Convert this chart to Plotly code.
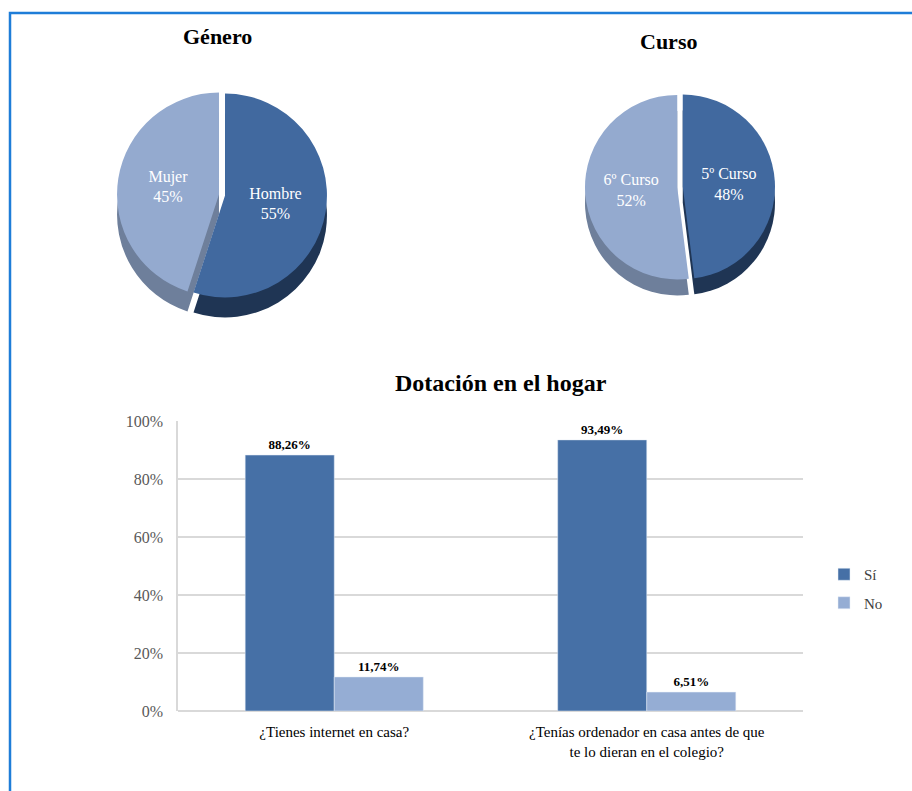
import plotly.graph_objects as go

# ---- data ----
genero_labels = ["Hombre", "Mujer"]
genero_values = [55, 45]
curso_labels = ["5º Curso", "6º Curso"]
curso_values = [48, 52]
bar_categories = ["¿Tienes internet en casa?",
                  "¿Tenías ordenador en casa antes de que<br>te lo dieran en el colegio?"]
si_values = [88.26, 93.49]
no_values = [11.74, 6.51]
y_ticks = [0, 20, 40, 60, 80, 100]
y_tick_labels = [f"{v}%" for v in y_ticks]

W, H = 912, 791
SERIF = "Liberation Serif"
DARK = "#41699F"
LIGHT = "#94AACF"
DARK_SIDE = "#1F3554"
LIGHT_SIDE = "#6E7F9B"


def px_x(v):
    return v / W


def px_y(v):
    return 1 - v / H


fig = go.Figure()

# Género pie (side/depth layer then top)
g_dom_x = [px_x(117), px_x(327)]
fig.add_trace(go.Pie(labels=genero_labels, values=genero_values, sort=False,
                     direction="clockwise", rotation=0,
                     domain=dict(x=g_dom_x, y=[px_y(320), px_y(110)]),
                     marker=dict(colors=[DARK_SIDE, LIGHT_SIDE], line=dict(width=0)),
                     pull=[0.03, 0.03], textinfo="none", hoverinfo="skip",
                     showlegend=False))
fig.add_trace(go.Pie(labels=genero_labels, values=genero_values, sort=False,
                     direction="clockwise", rotation=0,
                     domain=dict(x=g_dom_x, y=[px_y(300), px_y(90)]),
                     marker=dict(colors=[DARK, LIGHT], line=dict(width=0)),
                     pull=[0.03, 0.03],
                     texttemplate="%{label}<br>%{percent:.0%}",
                     textposition="inside", insidetextorientation="horizontal",
                     textfont=dict(family=SERIF, size=16, color="white"),
                     showlegend=False))

# Curso pie
c_dom_x = [px_x(585), px_x(775)]
fig.add_trace(go.Pie(labels=curso_labels, values=curso_values, sort=False,
                     direction="clockwise", rotation=0,
                     domain=dict(x=c_dom_x, y=[px_y(298), px_y(108)]),
                     marker=dict(colors=[DARK_SIDE, LIGHT_SIDE], line=dict(width=0)),
                     pull=[0.03, 0.03], textinfo="none", hoverinfo="skip",
                     showlegend=False))
fig.add_trace(go.Pie(labels=curso_labels, values=curso_values, sort=False,
                     direction="clockwise", rotation=0,
                     domain=dict(x=c_dom_x, y=[px_y(282), px_y(92)]),
                     marker=dict(colors=[DARK, LIGHT], line=dict(width=0)),
                     pull=[0.03, 0.03],
                     texttemplate="%{label}<br>%{percent:.0%}",
                     textposition="inside", insidetextorientation="horizontal",
                     textfont=dict(family=SERIF, size=16, color="white"),
                     showlegend=False))

# Bars
fig.add_trace(go.Bar(name="Sí", x=bar_categories, y=si_values, marker_color="#4670A6",
                     legendgroup="si",
                     texttemplate="<b>%{y:.2f}%</b>", textposition="outside",
                     textfont=dict(family=SERIF, size=13, color="black"),
                     cliponaxis=False))
fig.add_trace(go.Bar(name="No", x=bar_categories, y=no_values, marker_color="#95ADD4",
                     legendgroup="no",
                     texttemplate="<b>%{y:.2f}%</b>", textposition="outside",
                     textfont=dict(family=SERIF, size=13, color="black"),
                     cliponaxis=False))

fig.update_layout(
    width=W, height=H,
    margin=dict(l=0, r=0, t=0, b=0),
    paper_bgcolor="white", plot_bgcolor="white",
    separators=",.",
    barmode="group", bargap=0.43, bargroupgap=0,
    font=dict(family=SERIF, color="black"),
    xaxis=dict(domain=[px_x(178), px_x(803)], showline=False, ticks="",
               automargin=False, ticklabelstandoff=10,
               tickfont=dict(family=SERIF, size=15, color="black")),
    yaxis=dict(domain=[px_y(711), px_y(421)], range=[0, 100],
               tickmode="array", tickvals=y_ticks, ticktext=y_tick_labels,
               automargin=False, ticklabelstandoff=10,
               showgrid=True, gridcolor="#D9D9D9", gridwidth=1.5,
               showline=True, linecolor="#D9D9D9", linewidth=1.5,
               zeroline=True, zerolinecolor="#D9D9D9", zerolinewidth=1.5,
               ticks="", ticklen=0,
               tickfont=dict(family=SERIF, size=16, color="#595959")),
    legend=dict(x=px_x(824), y=px_y(558), xanchor="left", yanchor="top",
                font=dict(family=SERIF, size=15, color="#404040"),
                itemwidth=30, tracegroupgap=6, bgcolor="rgba(0,0,0,0)"),
    annotations=[
        dict(text="<b>Género</b>", x=px_x(217), y=px_y(37), xref="paper", yref="paper",
             xanchor="center", yanchor="middle",
             showarrow=False, font=dict(family=SERIF, size=22, color="black")),
        dict(text="<b>Curso</b>", x=px_x(668), y=px_y(42), xref="paper", yref="paper",
             xanchor="center", yanchor="middle",
             showarrow=False, font=dict(family=SERIF, size=22, color="black")),
        dict(text="<b>Dotación en el hogar</b>", x=px_x(501), y=px_y(383),
             xref="paper", yref="paper", showarrow=False,
             xanchor="center", yanchor="middle",
             font=dict(family=SERIF, size=24, color="black")),
    ],
    shapes=[
        dict(type="rect", xref="paper", yref="paper",
             x0=px_x(10), x1=px_x(930), y0=px_y(810), y1=px_y(13),
             line=dict(color="#1E7DD8", width=2.5), fillcolor="rgba(0,0,0,0)"),
    ],
)

fig.write_html("out.html")
